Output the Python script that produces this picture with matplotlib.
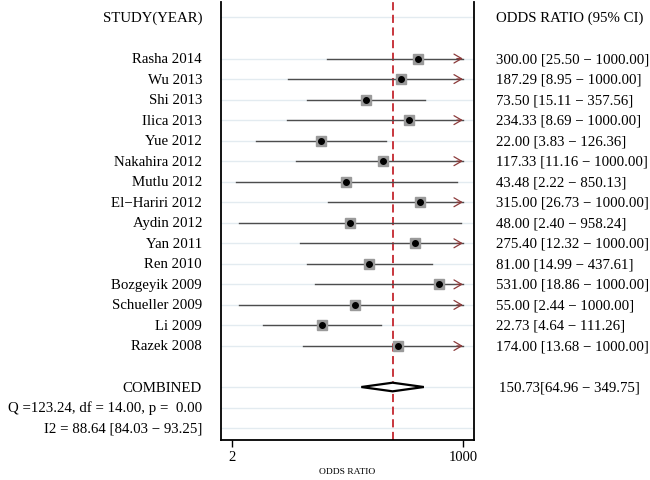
import numpy as np
import matplotlib
matplotlib.use('Agg')
import matplotlib.pyplot as plt

plt.rcParams['font.family'] = ['Liberation Serif', 'DejaVu Serif']

# study data
studies = ['Rasha 2014', 'Wu 2013', 'Shi 2013', 'Ilica 2013', 'Yue 2012',
           'Nakahira 2012', 'Mutlu 2012', 'El\u2212Hariri 2012', 'Aydin 2012',
           'Yan 2011', 'Ren 2010', 'Bozgeyik 2009', 'Schueller 2009',
           'Li 2009', 'Razek 2008']
odds = [300.00, 187.29, 73.50, 234.33, 22.00, 117.33, 43.48, 315.00, 48.00,
        275.40, 81.00, 531.00, 55.00, 22.73, 174.00]
ci_low = [25.50, 8.95, 15.11, 8.69, 3.83, 11.16, 2.22, 26.73, 2.40,
          12.32, 14.99, 18.86, 2.44, 4.64, 13.68]
ci_high = [1000.00, 1000.00, 357.56, 1000.00, 126.36, 1000.00, 850.13, 1000.00,
           958.24, 1000.00, 437.61, 1000.00, 1000.00, 111.26, 1000.00]

combined = 150.73
combined_low = 64.96
combined_high = 349.75
q_stat = 123.24
df_stat = 14.00
p_val = 0.00
i2 = 88.64
i2_low = 84.03
i2_high = 93.25

cap = 1000.0

fig = plt.figure(figsize=(6.5, 4.81), dpi=100)
ax = fig.add_axes([0.340, 0.0832, 0.389, 0.9108])
ax.set_xscale('log')
ax.set_xlim(1.488, 1344)
ax.set_ylim(20.58, -0.76)

rows = list(range(2, 2 + len(studies)))
comb_row = rows[-1] + 2
q_row = comb_row + 1
i2_row = comb_row + 2

# light grid lines
grid_rows = [0] + rows + [comb_row, q_row, i2_row]
for r in grid_rows:
    ax.axhline(r, color='#e3ebf0', lw=1.0, zorder=0)

# dashed line at combined estimate
ax.axvline(combined, color='#c4262e', lw=1.3, ls=(0, (4.5, 2.5)), zorder=1)

fs = 10.7
tr = ax.get_yaxis_transform()

for r, name, o, lo, hi in zip(rows, studies, odds, ci_low, ci_high):
    ax.plot([lo, min(hi, cap)], [r, r], color='#4d4d4d', lw=1.0, zorder=2)
    if hi >= cap:
        ax.annotate('', xy=(cap, r), xytext=(cap * 0.85, r),
                    arrowprops=dict(arrowstyle='->, head_length=0.55, head_width=0.32',
                                    color='#8c3b3b', lw=0.9, shrinkA=0, shrinkB=0),
                    zorder=3)
    ax.plot(o, r, marker='s', ms=6.8, color='#9a9a9a', mec='#9a9a9a', zorder=4)
    ax.plot(o, r, marker='o', ms=4.0, color='black', zorder=5)
    ax.text(-0.075, r, name, transform=tr, ha='right', va='center',
            fontsize=fs, clip_on=False)
    ax.text(1.087, r, '%.2f [%.2f \u2212 %.2f]' % (o, lo, hi), transform=tr,
            ha='left', va='center', fontsize=fs, clip_on=False)

# combined diamond
lc, hc = np.log10(combined_low), np.log10(combined_high)
dx = [combined_low, combined, combined_high, combined, combined_low]
dy = [comb_row, comb_row - 0.21, comb_row, comb_row + 0.21, comb_row]
ax.fill(dx, dy, facecolor='white', edgecolor='black', lw=1.6, zorder=6)

ax.text(-0.075, 0, 'STUDY(YEAR)', transform=tr, ha='right', va='center',
        fontsize=fs, clip_on=False)
ax.text(1.087, 0, 'ODDS RATIO (95% CI)', transform=tr, ha='left', va='center',
        fontsize=fs, clip_on=False)
ax.text(-0.075, comb_row, 'COMBINED', transform=tr, ha='right', va='center',
        fontsize=fs, clip_on=False)
ax.text(1.099, comb_row, '%.2f[%.2f \u2212 %.2f]' % (combined, combined_low, combined_high),
        transform=tr, ha='left', va='center', fontsize=fs, clip_on=False)
ax.text(-0.075, q_row, 'Q =%.2f, df = %.2f, p =  %.2f' % (q_stat, df_stat, p_val),
        transform=tr, ha='right', va='center', fontsize=fs, clip_on=False)
ax.text(-0.075, i2_row, 'I2 = %.2f [%.2f \u2212 %.2f]' % (i2, i2_low, i2_high),
        transform=tr, ha='right', va='center', fontsize=fs, clip_on=False)

# axes styling
ax.spines['top'].set_visible(False)
for s in ['left', 'right', 'bottom']:
    ax.spines[s].set_linewidth(1.3)
ax.set_yticks([])
ax.set_xticks([2, 1000])
ax.set_xticklabels(['2', '1000'])
ax.xaxis.set_minor_locator(matplotlib.ticker.NullLocator())
ax.tick_params(axis='x', direction='out', length=5, width=1.0, labelsize=10.5, pad=2)
ax.set_xlabel('ODDS RATIO', fontsize=6.8, labelpad=3)

fig.savefig('out.png', dpi=100, facecolor='white')
